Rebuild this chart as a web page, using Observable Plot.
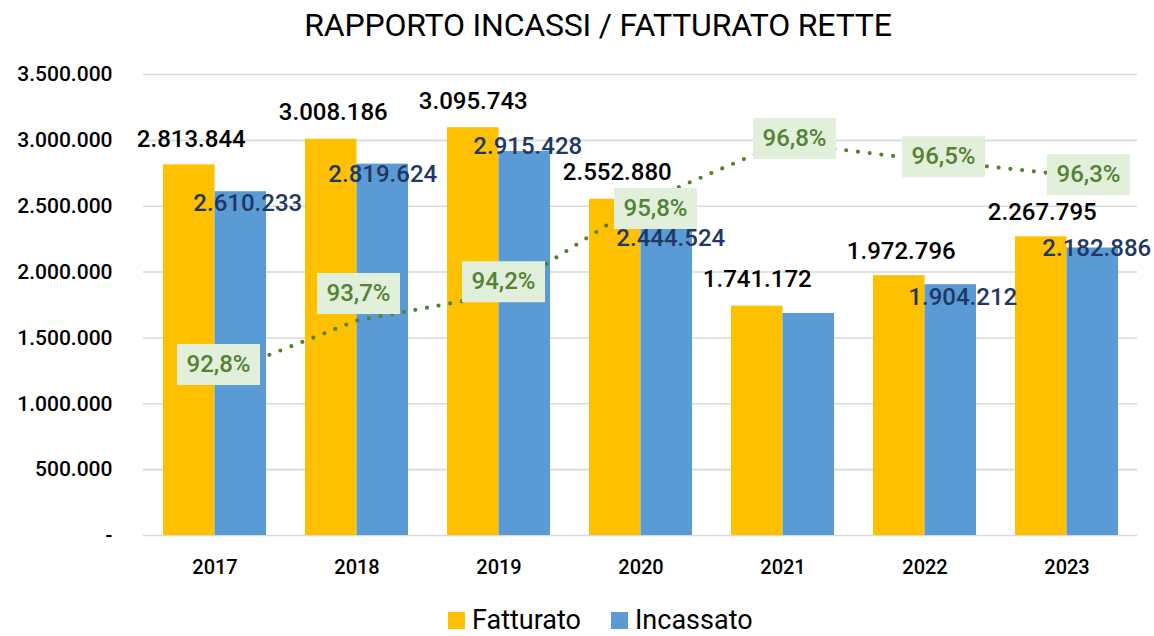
<!DOCTYPE html>
<html><head><meta charset="utf-8">
<script src="https://cdn.jsdelivr.net/npm/d3@7"></script>
<script src="https://cdn.jsdelivr.net/npm/@observablehq/plot@0.6"></script>
<style>
body{margin:0;background:#fff;font-family:Roboto,"Open Sans",sans-serif;}
#wrap{width:1154px;height:636px;position:relative;overflow:hidden;background:#fff}
#title{position:absolute;left:21px;top:0;width:1154px;height:48px;line-height:50px;text-align:center;font-size:32px;font-weight:400;color:#000;letter-spacing:-0.2px}
#chart{position:absolute;left:0;top:48px;width:1154px;height:555px}
#chart svg{position:absolute;left:0;top:0;overflow:visible}
#legend{position:absolute;left:448px;top:606px;height:28px;line-height:28px;display:flex;align-items:center;font-size:27px;color:#000}
.sw{width:17px;height:17px;display:inline-block;margin-right:7px}
.item{display:flex;align-items:center;margin-right:30px;line-height:28px}
</style></head>
<body>
<div id="wrap">
  <div id="title">RAPPORTO INCASSI / FATTURATO RETTE</div>
  <div id="chart"></div>
  <div id="legend"></div>
</div>
<script>
// ---- data ----
const years = ["2017","2018","2019","2020","2021","2022","2023"];
const fatturato = [2813844, 3008186, 3095743, 2552880, 1741172, 1972796, 2267795];
const incassato = [2610233, 2819624, 2915428, 2444524, 1685856, 1904212, 2182886];
const ratio = [0.9276, 0.9373, 0.9418, 0.9576, 0.9682, 0.9652, 0.9626];
const hiddenIncassatoLabels = ["2021"];
const yTicks = [0, 500000, 1000000, 1500000, 2000000, 2500000, 3000000, 3500000];
const seriesNames = ["Fatturato", "Incassato"];

// ---- styling / layout ----
const colors = {Fatturato: "#FFC000", Incassato: "#5B9BD5"};
const lineColor = "#548235";
const labelBg = "#E2EFDA";
const ratioNudge = [[4,-12],[2,-27],[5,-13],[15,5],[12,-4],[19,-3],[22,0]];
const fatNudge = [[2,-26],[2,-27],[0,-26],[2,-27],[0,-27],[2,-24],[1,-24]];
const incNudge = [[7,12],[0,10],[3,-5],[4,25],[0,12],[12,13],[4,0]];
const W = 1154, H = 555;
const margins = {marginLeft: 143, marginRight: 17, marginTop: 26, marginBottom: 68};
const half = 103 / 4; // half of a single bar width

const it = d3.formatLocale({decimal: ",", thousands: ".", grouping: [3], currency: ["€", ""]});
const fmtNum = it.format(",d");
const fmtPct = it.format(".1%");

const rows = years.map((y, i) => ({year: y, fat: fatturato[i], inc: incassato[i], r: ratio[i], i}));

const xScale = {domain: years, paddingInner: 0.275, paddingOuter: 0.1375};
const font = {fontFamily: "Roboto, sans-serif", background: "transparent", overflow: "visible"};

const bars = Plot.plot({
  width: W, height: H, ...margins,
  style: font,
  x: {...xScale, label: null},
  y: {domain: [0, 3500000], label: null},
  marks: [
    Plot.ruleY(yTicks, {stroke: "#D9D9D9", strokeWidth: 1.6}),
    Plot.axisY(yTicks, {tickSize: 0, tickPadding: 31, fontSize: 21, fontWeight: 500, label: null,
      tickFormat: d => d === 0 ? "-" : fmtNum(d), fill: "#000"}),
    Plot.axisX({tickSize: 0, tickPadding: 24, fontSize: 20, fontWeight: 500, label: null, fill: "#000"}),
    Plot.barY(rows, {x: "year", y: "fat", fill: colors.Fatturato, insetRight: 103/2}),
    Plot.barY(rows, {x: "year", y: "inc", fill: colors.Incassato, insetLeft: 103/2}),
    ...rows.map(d => Plot.text([d], {x: "year", y: "fat", text: v => fmtNum(v.fat),
      dx: -half + fatNudge[d.i][0], dy: fatNudge[d.i][1], fontSize: 24, fontWeight: 500, fill: "#000"})),
    ...rows.filter(d => !hiddenIncassatoLabels.includes(d.year)).map(d => Plot.text([d], {x: "year", y: "inc",
      text: v => fmtNum(v.inc), dx: half + incNudge[d.i][0], dy: incNudge[d.i][1],
      fontSize: 24, fontWeight: 500, fill: "#1F3864"}))
  ]
});

const boxSymbol = {draw(ctx) { ctx.rect(-41.5, -20.5, 83, 41); }};

const line = Plot.plot({
  width: W, height: H, ...margins,
  style: font,
  x: {...xScale, axis: null},
  y: {domain: [0.90, 0.98], axis: null},
  marks: [
    Plot.line(rows, {x: "year", y: "r", stroke: lineColor, strokeWidth: 4.2,
      strokeDasharray: "0 11.8", strokeLinecap: "round"}),
    ...rows.map(d => Plot.dot([d], {x: "year", y: "r", symbol: boxSymbol, r: 10, fill: labelBg,
      stroke: "none", dx: ratioNudge[d.i][0], dy: ratioNudge[d.i][1]})),
    ...rows.map(d => Plot.text([d], {x: "year", y: "r", text: v => fmtPct(v.r), fill: lineColor,
      fontSize: 24, fontWeight: 500, dx: ratioNudge[d.i][0], dy: ratioNudge[d.i][1]}))
  ]
});

const chart = document.getElementById("chart");
chart.appendChild(bars);
chart.appendChild(line);

const legend = document.getElementById("legend");
seriesNames.forEach(n => {
  const item = document.createElement("div");
  item.className = "item";
  item.innerHTML = `<span class="sw" style="background:${colors[n]}"></span><span>${n}</span>`;
  legend.appendChild(item);
});
</script>
</body></html>
